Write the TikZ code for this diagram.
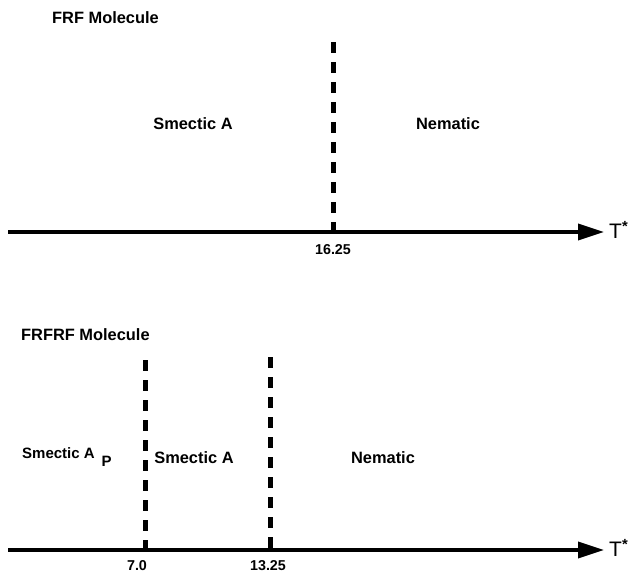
\documentclass[tikz,border=0pt]{standalone}
\usepackage{fontspec}
\setmainfont{Liberation Sans}
\usetikzlibrary{arrows.meta}

\begin{document}
\begin{tikzpicture}[x=1pt,y=-1pt,
	axis/.style={line width=3.5pt,-{Triangle[length=26pt,width=16pt]}},
	boundary/.style={line width=5pt,dash pattern=on 11pt off 9pt},
	phase/.style={font=\fontsize{16.4}{19}\selectfont\bfseries},
	ticklabel/.style={font=\fontsize{14.3}{16}\selectfont\bfseries,inner sep=0pt},
	axislabel/.style={font=\fontsize{21}{23}\selectfont,anchor=west,inner sep=0pt}]

	% ---- frame

	\useasboundingbox (0,0) rectangle (631,573);

	% ---- coordinates

	\coordinate (A1) at (8,232);
	\coordinate (B1) at (604,232);
	\coordinate (A2) at (8,550);
	\coordinate (B2) at (604,550);

	\coordinate (P1) at (333,42);
	\coordinate (Q1) at (333,232);
	\coordinate (P2) at (145,360);
	\coordinate (Q2) at (145,550);
	\coordinate (P3) at (270,357);
	\coordinate (Q3) at (270,550);

	% ---- FRF molecule

	\node[phase,anchor=west,inner sep=0pt] (frf) at (52,18) {FRF Molecule};

	\draw[boundary] (P1) -- (Q1);
	\draw[axis] (A1) -- (B1);
	\node[axislabel] (t1) at (609,230) {T\textsuperscript{\bfseries *}};

	\node[ticklabel] (v1) at (333,250) {16.25};

	\node[phase] (sa1) at (193,124) {Smectic A};
	\node[phase] (ne1) at (448,124) {Nematic};

	% ---- FRFRF molecule

	\node[phase,anchor=west,inner sep=0pt] (frfrf) at (21,335) {FRFRF Molecule};

	\draw[boundary] (P2) -- (Q2);
	\draw[boundary] (P3) -- (Q3);
	\draw[axis] (A2) -- (B2);
	\node[axislabel] (t2) at (609,548) {T\textsuperscript{\bfseries *}};

	\node[ticklabel] (v2) at (137,566) {7.0};
	\node[ticklabel] (v3) at (268,566) {13.25};

	\node[phase,anchor=west,inner sep=0pt,font=\fontsize{15}{18}\selectfont\bfseries] (sap) at (22,457) {Smectic A\hspace{7pt}\raisebox{-1.1ex}{P}};
	\node[phase] (sa2) at (194,458) {Smectic A};
	\node[phase] (ne2) at (383,458) {Nematic};

\end{tikzpicture}
\end{document}
